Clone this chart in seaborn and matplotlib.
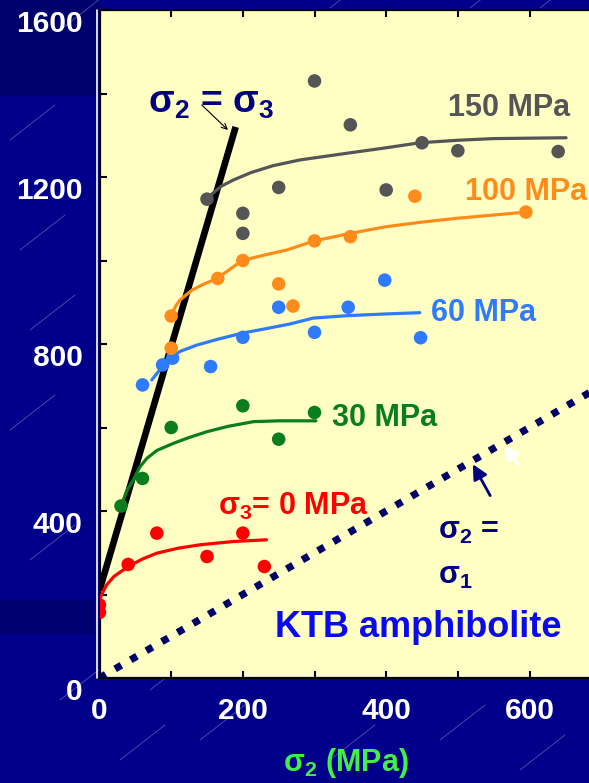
import numpy as np
import pandas as pd
import matplotlib
matplotlib.use("Agg")
import matplotlib.pyplot as plt
from matplotlib.lines import Line2D
from matplotlib.patches import Rectangle
import seaborn as sns

# ---------------- data ----------------
series = ["0 MPa", "30 MPa", "60 MPa", "100 MPa", "150 MPa"]
colors = ["#ff0000", "#0a7d1e", "#2e7bff", "#ff8c1a", "#555555"]

pts_x_0 = [0, 0, 40, 80, 150, 200, 230]
pts_y_0 = [175, 157, 272, 347, 291, 347, 267]
pts_x_30 = [30, 60, 100, 200, 250, 300]
pts_y_30 = [412, 478, 600, 652, 572, 636]
pts_x_60 = [60, 88, 102, 155, 200, 250, 300, 347, 398, 448]
pts_y_60 = [702, 750, 766, 746, 816, 888, 828, 888, 953, 815]
pts_x_100 = [100, 100, 165, 200, 250, 270, 300, 350, 440, 595]
pts_y_100 = [867, 790, 957, 1000, 944, 891, 1047, 1057, 1154, 1116]
pts_x_150 = [150, 200, 200, 250, 300, 350, 400, 450, 500, 640]
pts_y_150 = [1147, 1113, 1065, 1175, 1430, 1325, 1169, 1282, 1263, 1261]

fit_x_0 = [0, 5, 10, 20, 40, 60, 80, 110, 140, 187, 233]
fit_y_0 = [187, 207, 223, 243, 267, 285, 299, 311, 319, 327, 331]
fit_x_30 = [30, 38, 47, 56, 66, 80, 103, 125, 150, 180, 215, 250, 280, 302]
fit_y_30 = [412, 448, 474, 505, 526, 545, 562, 576, 590, 603, 614, 616, 616, 616]
fit_x_60 = [73, 84, 97, 112, 135, 164, 199, 230, 266, 298, 347, 400, 447]
fit_y_60 = [714, 738, 763, 782, 797, 811, 826, 836, 848, 862, 868, 872, 875]
fit_x_100 = [100, 106, 112, 129, 145, 164, 199, 230, 261, 300, 350, 400, 450, 498, 596]
fit_y_100 = [867, 890, 905, 929, 943, 957, 1000, 1013, 1025, 1047, 1065, 1081, 1092, 1101, 1116]
fit_x_150 = [150, 158, 170, 187, 212, 242, 280, 350, 400, 447, 500, 550, 651]
fit_y_150 = [1147, 1161, 1178, 1193, 1211, 1227, 1241, 1258, 1270, 1282, 1288, 1292, 1294]

s2_eq_s3_x = [0, 190]
s2_eq_s3_y = [210, 1320]
s2_eq_s1_x = [0, 700]
s2_eq_s1_y = [0, 700]

x_ticks = [0, 100, 200, 300, 400, 500, 600]
x_ticklabels = ["0", "", "200", "", "400", "", "600"]
y_ticks = [0, 200, 400, 600, 800, 1000, 1200, 1400, 1600]
y_ticklabels = ["0", "", "400", "", "800", "", "1200", "", "1600"]

pts_x = [pts_x_0, pts_x_30, pts_x_60, pts_x_100, pts_x_150]
pts_y = [pts_y_0, pts_y_30, pts_y_60, pts_y_100, pts_y_150]
fit_x = [fit_x_0, fit_x_30, fit_x_60, fit_x_100, fit_x_150]
fit_y = [fit_y_0, fit_y_30, fit_y_60, fit_y_100, fit_y_150]

pts = pd.concat([pd.DataFrame({"s2": x, "s1": y, "s3": s})
                 for x, y, s in zip(pts_x, pts_y, series)], ignore_index=True)
fits = pd.concat([pd.DataFrame({"s2": x, "s1": y, "s3": s})
                  for x, y, s in zip(fit_x, fit_y, series)], ignore_index=True)
palette = dict(zip(series, colors))

# ---------------- style ----------------
sns.set_style("ticks")
plt.rcParams["font.family"] = ["Liberation Sans", "DejaVu Sans"]
plt.rcParams["font.weight"] = "bold"
plt.rcParams["mathtext.fontset"] = "custom"
plt.rcParams["mathtext.rm"] = "Liberation Sans:bold"
plt.rcParams["mathtext.bf"] = "Liberation Sans:bold"
plt.rcParams["mathtext.it"] = "Liberation Sans:bold"
plt.rcParams["mathtext.default"] = "bf"

W, H = 589, 783
fig = plt.figure(figsize=(W / 100, H / 100), dpi=100)
navy_bg = "#00008a"
fig.patch.set_facecolor(navy_bg)

# background bands
fig.add_artist(Rectangle((0, 1 - 95 / H), 98 / W, 95 / H, transform=fig.transFigure,
                         color="#00006c", zorder=-5))
fig.add_artist(Rectangle((0, 1 - 633 / H), 92 / W, 33 / H, transform=fig.transFigure,
                         color="#000070", zorder=-5))
# faint diagonal streaks
for (x0, y0) in [(10, 140), (30, 330), (10, 430), (30, 560), (60, 700), (120, 760),
                 (200, 740), (330, 760), (440, 740), (520, 770), (60, 30), (330, 8),
                 (470, 8), (540, 8), (20, 250), (150, 690)]:
    fig.add_artist(Line2D([x0 / W, (x0 + 45) / W], [1 - y0 / H, 1 - (y0 - 35) / H],
                          transform=fig.transFigure, color="#8888cc", lw=0.6,
                          alpha=0.6, zorder=-4))

left_px, top_px, bottom_px = 99.5, 10, 678
px_per_x = 0.7167
xmax = 700
ax_w = xmax * px_per_x
ax = fig.add_axes([left_px / W, 1 - bottom_px / H, ax_w / W, (bottom_px - top_px) / H])
ax.set_facecolor("#ffffc4")
ax.set_xlim(0, xmax)
ax.set_ylim(0, 1600)

# reference lines
ax.plot(s2_eq_s1_x, s2_eq_s1_y, color="#000066", lw=5.2,
        linestyle=(0, (1, 1.5)), zorder=2)
ax.plot(s2_eq_s3_x, s2_eq_s3_y, color="black", lw=4.8, zorder=2, solid_capstyle="butt")

sns.lineplot(data=fits, x="s2", y="s1", hue="s3", palette=palette, estimator=None,
             sort=False, lw=2.3, legend=False, ax=ax, zorder=3)
sns.scatterplot(data=pts, x="s2", y="s1", hue="s3", palette=palette, s=95,
                edgecolor="none", legend=False, ax=ax, zorder=4)

# ticks and spines
ax.set_xticks(x_ticks)
ax.set_xticklabels(x_ticklabels)
ax.set_yticks(y_ticks)
ax.set_yticklabels(y_ticklabels)
ax.tick_params(axis="both", direction="in", length=5, width=1.5, color="black",
               labelcolor="white", labelsize=21.5)
ax.tick_params(axis="x", top=True, pad=14)
ax.tick_params(axis="y", pad=12)
for lab in ax.get_yticklabels():
    lab.set_verticalalignment("top")
    lab.set_fontweight("bold")
for lab in ax.get_xticklabels():
    lab.set_fontweight("bold")
for side in ["left", "top", "bottom"]:
    ax.spines[side].set_color("black")
    ax.spines[side].set_linewidth(1.6)
ax.spines["right"].set_visible(False)
fig.add_artist(Line2D([97.2 / W, 97.2 / W], [1 - bottom_px / H, 1 - top_px / H],
                      transform=fig.transFigure, color="white", lw=1.2))

ax.set_ylabel("")
ax.set_xlabel(r"$\sigma_2$ (MPa)", color="#44ee44", fontsize=22, fontweight="bold")
ax.xaxis.set_label_coords((346 - left_px) / ax_w, (bottom_px - 746) / (bottom_px - top_px))

# annotations
navy = "#000080"
ax.text(68, 1377, r"$\sigma_2$ = $\sigma_3$", color=navy, fontsize=27, ha="left", va="center")
ax.annotate("", xy=(182, 1308), xytext=(140, 1377),
            arrowprops=dict(arrowstyle="->", color="black", lw=0.8))
ax.text(486, 1365, "150 MPa", color="#555555", fontsize=22, ha="left", va="center")
ax.text(510, 1164, "100 MPa", color="#ff8c1a", fontsize=22, ha="left", va="center")
ax.text(463, 874, "60 MPa", color="#2e7bff", fontsize=22, ha="left", va="center")
ax.text(324, 623, "30 MPa", color="#0a7d1e", fontsize=22, ha="left", va="center")
ax.text(165, 410, r"$\sigma_3$= 0 MPa", color="#ff0000", fontsize=22, ha="left", va="center")
ax.text(473, 352, r"$\sigma_2$ =", color=navy, fontsize=22, ha="left", va="center")
ax.text(473, 244, r"$\sigma_1$", color=navy, fontsize=22, ha="left", va="center")
ax.text(245, 122, "KTB amphibolite", color="#0a0aee", fontsize=26, ha="left", va="center")
ax.annotate("", xy=(519, 518), xytext=(547, 431),
            arrowprops=dict(arrowstyle="-|>", color=navy, lw=2, mutation_scale=22))
ax.annotate("", xy=(563, 563), xytext=(587, 505),
            arrowprops=dict(arrowstyle="-|>", color="white", lw=2, mutation_scale=22))

fig.savefig("out.png", dpi=100, facecolor=fig.get_facecolor())
